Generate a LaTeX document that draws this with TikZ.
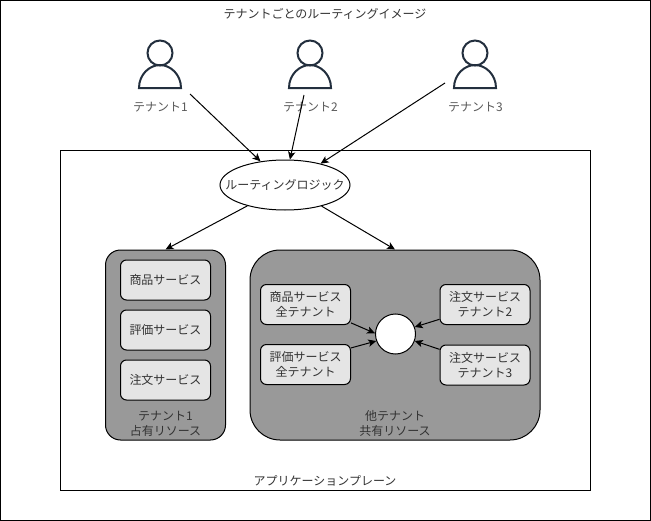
\documentclass[tikz,border=0pt]{standalone}
\usepackage{fontspec}
\setmainfont{Noto Sans CJK JP}
\usetikzlibrary{shapes.geometric,arrows.meta}
\definecolor{iconblue}{HTML}{232F3E}
\definecolor{labelgray}{HTML}{333333}
\tikzset{
    every node/.style={font=\fontsize{9}{11.25}\selectfont, text=labelgray, align=center},
    every path/.style={line width=0.75pt},
    link/.style={draw, -{Stealth[length=6pt,width=5.5pt,inset=1.5pt]}},
    usericon/.style={draw=iconblue, line width=1.5pt},
    groupbox/.style={draw, fill=black!40, minimum height=142.5pt, inner sep=0pt},
    svcbox/.style={draw, fill=black!10, rounded corners=4.5pt, minimum width=67.5pt, minimum height=30pt, inner sep=0pt},
}
\begin{document}
\begin{tikzpicture}[x=0.75pt, y=-0.75pt]
    \useasboundingbox (0,0) rectangle (651,521);
    \draw (0.5,0.5) rectangle (650.5,520.5);
    \node (title) at (325,14) {テナントごとのルーティングイメージ};

    % --- Tenants ---
    \foreach \x/\n in {160/1, 310/2, 475/3} {
        \draw[usericon] (\x,53) circle (12.5);
        \draw[usericon] (\x-21,88) .. controls (\x-21,74) and (\x-10,65) .. (\x,65)
            .. controls (\x+10,65) and (\x+21,74) .. (\x+21,88) -- cycle;
        \node[text=black!65] (tenant\n) at (\x+0.5,107.5) {テナント\n};
    }
    \coordinate (tail1) at (190,94);
    \coordinate (tail2) at (304,95);
    \coordinate (tail3) at (445,83);

    % --- Application plane ---
    \node[draw, minimum width=397.5pt, minimum height=255pt, inner sep=0pt] (plane) at (325,320.5) {};
    \node (planelabel) at (325,481) {アプリケーションプレーン};
    \node[draw, fill=white, ellipse, minimum width=97.5pt, minimum height=37.5pt, inner sep=0pt,
        label={center:ルーティングロジック}] (router) at (285,185) {};

    % Groups
    \node[groupbox, rounded corners=11.25pt, minimum width=90pt] (owned) at (165.5,345) {};
    \node[groupbox, rounded corners=22.5pt, minimum width=217.5pt] (shared) at (395,345) {};
    \node (ownedlabel) at (165.5,423.5) {テナント1\\占有リソース};
    \node (sharedlabel) at (395,423.5) {他テナント\\共有リソース};

    % Owned services
    \node[svcbox] (item) at (165.5,280) {商品サービス};
    \node[svcbox] (review) at (165.5,330) {評価サービス};
    \node[svcbox] (order) at (165.5,380) {注文サービス};

    % Shared services
    \node[svcbox] (itemall) at (305.5,304.5) {商品サービス\\全テナント};
    \node[svcbox] (reviewall) at (305.5,364.5) {評価サービス\\全テナント};
    \node[svcbox] (ordertwo) at (485,304.5) {注文サービス\\テナント2};
    \node[svcbox] (orderthree) at (485,365) {注文サービス\\テナント3};
    \node[draw, fill=white, circle, minimum size=30pt, inner sep=0pt] (hub) at (395.5,334) {};

    % Connectors
    \draw[link] (tail1) -- (router.136);
    \draw[link] (tail2) -- (router.79);
    \draw[link] (tail3) -- (router.31);
    \draw[link] (router.209) -- (owned.north);
    \draw[link] (router.-30) -- (shared.north);
    \draw[link] (itemall.-22.6) -- (hub.178);
    \draw[link] (reviewall.20) -- (hub.200);
    \draw[link] (ordertwo.198) -- (hub.20);
    \draw[link] (orderthree.161) -- (hub.-20);
\end{tikzpicture}
\end{document}
